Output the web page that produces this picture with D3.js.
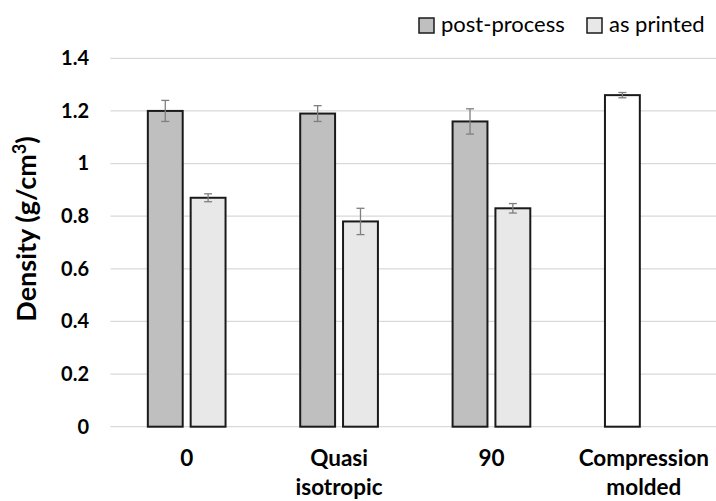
<!DOCTYPE html>
<html>
<head>
<meta charset="utf-8">
<script src="https://cdn.jsdelivr.net/npm/d3@7"></script>
<style>
  body { margin: 0; background: #fff; }
  svg { display: block; font-family: Lato, "Open Sans", sans-serif; }
</style>
</head>
<body>
<svg id="chart" width="716" height="501"></svg>
<script>
// Density per layup
const categories = ["0", "Quasi isotropic", "90", "Compression molded"]
const categoryLines = [["0"], ["Quasi", "isotropic"], ["90"], ["Compression", "molded"]]
const seriesNames = ["post-process", "as printed"]
const postProcess = [1.20, 1.19, 1.16, null]
const postProcessErr = [0.04, 0.03, 0.048, null]
const asPrinted = [0.87, 0.78, 0.83, null]
const asPrintedErr = [0.015, 0.05, 0.018, null]
const compression = [null, null, null, 1.26]
const compressionErr = [null, null, null, 0.01]
const yTicks = [0, 0.2, 0.4, 0.6, 0.8, 1, 1.2, 1.4]

const colors = {"post-process": "#bfbfbf", "as printed": "#e8e8e8", "compression": "#ffffff"}

const svg = d3.select("#chart")
const plotLeft = 110.5, plotRight = 720, plotTop = 58.3, plotBottom = 426.7

var x0 = d3.scaleBand().domain(categories).range([plotLeft, plotRight])
    .paddingInner(0.49).paddingOuter(0.245)
var x1 = d3.scaleBand().domain(seriesNames).range([0, x0.bandwidth()]).paddingInner(0.186)
var y = d3.scaleLinear().domain([0, 1.4]).range([plotBottom, plotTop])

// gridlines
svg.append("g").selectAll("line")
    .data(yTicks)
    .enter().append("line")
    .attr("x1", plotLeft).attr("x2", plotRight)
    .attr("y1", d => y(d)).attr("y2", d => y(d))
    .attr("stroke", "#d9d9d9").attr("stroke-width", 1.3)

// y axis labels
var yAxis = d3.axisLeft(y).tickValues(yTicks).tickSize(0).tickPadding(0)
    .tickFormat(d => d3.format("")(+d.toFixed(1)))
var yg = svg.append("g").attr("transform", "translate(89,0)").call(yAxis)
yg.select(".domain").remove()
yg.selectAll("text")
    .attr("font-family", "Lato, sans-serif")
    .attr("font-size", 20).attr("font-weight", "bold").attr("fill", "#000")

// flatten bars
var bars = []
categories.forEach(function(c, i) {
    if (postProcess[i] != null) bars.push({cat: c, slot: "post-process", fill: colors["post-process"], v: postProcess[i], e: postProcessErr[i]})
    if (asPrinted[i] != null) bars.push({cat: c, slot: "as printed", fill: colors["as printed"], v: asPrinted[i], e: asPrintedErr[i]})
    if (compression[i] != null) bars.push({cat: c, slot: "post-process", fill: colors["compression"], v: compression[i], e: compressionErr[i]})
})

svg.append("g").selectAll("rect")
    .data(bars)
    .enter().append("rect")
    .attr("x", d => x0(d.cat) + x1(d.slot))
    .attr("y", d => y(d.v))
    .attr("width", x1.bandwidth())
    .attr("height", d => y(0) - y(d.v))
    .attr("fill", d => d.fill)
    .attr("stroke", "#1a1a1a").attr("stroke-width", 2)

// error bars
var eg = svg.append("g").attr("stroke", "#7f7f7f").attr("stroke-width", 1.3)
bars.forEach(function(d) {
    var cx = x0(d.cat) + x1(d.slot) + x1.bandwidth() / 2
    eg.append("line").attr("x1", cx).attr("x2", cx).attr("y1", y(d.v + d.e)).attr("y2", y(d.v - d.e))
    eg.append("line").attr("x1", cx - 4).attr("x2", cx + 4).attr("y1", y(d.v + d.e)).attr("y2", y(d.v + d.e))
    eg.append("line").attr("x1", cx - 4).attr("x2", cx + 4).attr("y1", y(d.v - d.e)).attr("y2", y(d.v - d.e))
})

// category labels
var xl = svg.append("g").selectAll("text")
    .data(categories)
    .enter().append("text")
    .attr("text-anchor", "middle")
    .attr("font-size", 22.5).attr("font-weight", "bold")
    .attr("transform", d => "translate(" + (x0(d) + x0.bandwidth() / 2) + ",466)")
xl.selectAll("tspan")
    .data((d, i) => categoryLines[i])
    .enter().append("tspan")
    .attr("x", 0).attr("y", (d, i) => i * 29)
    .text(d => d)

// y title
svg.append("text")
    .attr("transform", "translate(36,229) rotate(-90)")
    .attr("text-anchor", "middle")
    .attr("font-size", 27).attr("font-weight", "bold")
    .html("Density (g/cm<tspan dy='-10' font-size='18'>3</tspan><tspan dy='10'>)</tspan>")

// legend
var legendX = [419, 587]
var lg = svg.append("g").selectAll("g")
    .data(seriesNames)
    .enter().append("g")
    .attr("transform", (d, i) => "translate(" + legendX[i] + ",18)")
lg.append("rect").attr("width", 15).attr("height", 15)
    .attr("fill", d => colors[d]).attr("stroke", "#1a1a1a").attr("stroke-width", 1.5)
lg.append("text").attr("x", 22).attr("y", 14)
    .attr("font-size", 22).attr("fill", "#000")
    .text(d => d)
</script>
</body>
</html>
